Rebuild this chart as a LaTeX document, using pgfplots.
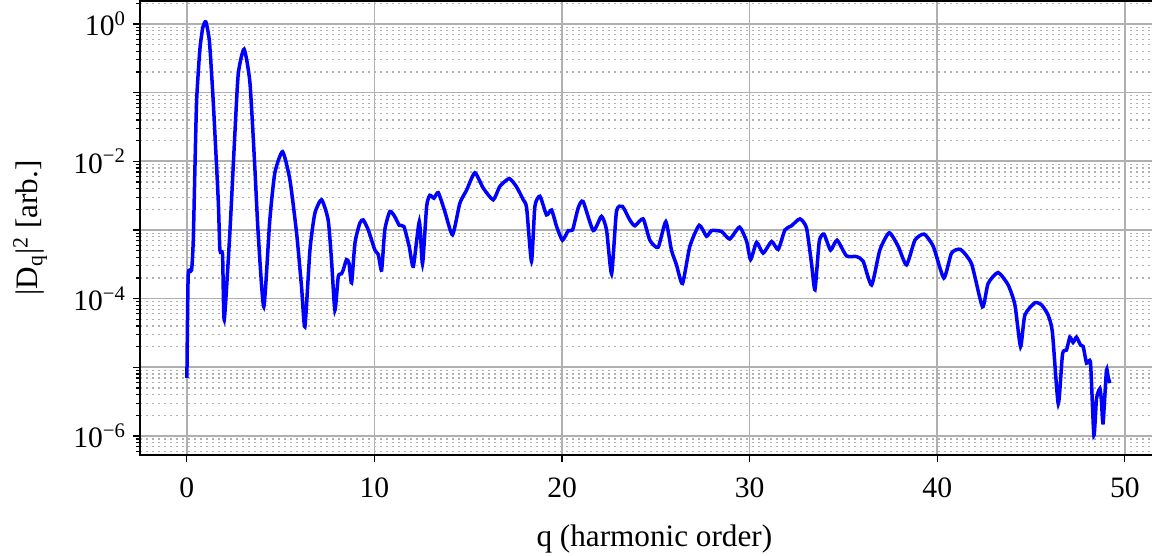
\documentclass[border=0pt]{standalone}
\usepackage{fontspec}
\setmainfont{Liberation Serif}
\usepackage{pgfplots}
\pgfplotsset{compat=1.18}
\definecolor{gridgray}{RGB}{176,176,176}
\begin{document}
\begin{tikzpicture}
\begin{axis}[
  at={(0,0)}, anchor=south west,
  scale only axis,
  width=509.3pt, height=227pt,
  ymode=log,
  xmin=-2.5, xmax=51.8,
  ymin=5.28e-7, ymax=2.16,
  xtick={0,10,20,30,40,50},
  xticklabels={0,10,20,30,40,50},
  ytick={1,1e-1,1e-2,1e-3,1e-4,1e-5,1e-6},
  yticklabels={10\textsuperscript{0},,10\textsuperscript{−2},,10\textsuperscript{−4},,10\textsuperscript{−6}},
  minor ytick={9e-7,8e-7,7e-7,6e-7,
    9e-6,8e-6,7e-6,6e-6,5e-6,4e-6,3e-6,2e-6,
    9e-5,8e-5,7e-5,6e-5,5e-5,4e-5,3e-5,2e-5,
    9e-4,8e-4,7e-4,6e-4,5e-4,4e-4,3e-4,2e-4,
    9e-3,8e-3,7e-3,6e-3,5e-3,4e-3,3e-3,2e-3,
    9e-2,8e-2,7e-2,6e-2,5e-2,4e-2,3e-2,2e-2,
    9e-1,8e-1,7e-1,6e-1,5e-1,4e-1,3e-1,2e-1,2},
  tick pos=left,
  tick align=outside,
  major tick length=3.5pt,
  minor tick length=2pt,
  every tick/.style={black, line width=0.6pt},
  grid=both,
  major grid style={gridgray, line width=0.8pt},
  minor grid style={gridgray, line width=0.6pt, dash pattern=on 1pt off 2pt},
  axis line style={black, line width=1pt},
  tick label style={font=\fontsize{14.8}{17}\selectfont},
  xticklabel style={yshift=-4.5pt},
  label style={font=\fontsize{15.6}{19}\selectfont},
  xlabel={q (harmonic order)},
  ylabel={|D\textsubscript{q}|\textsuperscript{2} [arb.]},
  xlabel style={at={(axis description cs:0.505,-0.184)}, anchor=center},
  ylabel style={at={(axis description cs:-0.108,0.5)}, anchor=center},
  clip=true,
]
\addplot[blue, line width=1.75pt, smooth, tension=0.35] table {
x y
0.00 7.0e-6
0.07 2.2e-4
0.25 2.6e-4
0.34 7.1e-4
0.43 8.3e-3
0.52 7.8e-2
0.69 0.42
0.85 0.89
1.01 1.07
1.20 0.56
1.40 7.8e-2
1.67 2.75e-3
1.76 5.1e-4
1.90 4.4e-4
1.99 4.9e-5
2.29 9.1e-4
2.56 2.6e-2
2.74 0.19
3.05 0.43
3.36 0.14
3.62 8.3e-3
3.80 8.9e-4
4.10 7.6e-5
4.42 1.4e-3
4.69 6.8e-3
5.10 1.38e-2
5.49 5.4e-3
5.85 8.9e-4
6.11 1.5e-4
6.29 3.9e-5
6.56 5.1e-4
6.82 1.74e-3
7.18 2.75e-3
7.53 1.4e-3
7.71 3.6e-4
7.89 6.8e-5
8.07 2.1e-4
8.24 2.3e-4
8.33 2.6e-4
8.51 3.7e-4
8.64 3.3e-4
8.78 1.7e-4
8.96 6.5e-4
9.22 1.26e-3
9.40 1.4e-3
9.67 1.0e-3
10.02 5.1e-4
10.20 4.4e-4
10.38 2.6e-4
10.55 1.0e-3
10.82 1.86e-3
11.09 1.55e-3
11.32 1.17e-3
11.57 1.12e-3
11.85 5.75e-4
12.07 2.95e-4
12.39 1.32e-3
12.56 3.2e-4
12.78 2.2e-3
12.95 3.2e-3
13.17 2.9e-3
13.40 3.5e-3
13.75 1.86e-3
14.16 8.5e-4
14.55 2.45e-3
14.91 3.8e-3
15.35 6.8e-3
15.79 4.1e-3
16.33 2.75e-3
16.68 4.3e-3
17.18 5.6e-3
17.56 4.3e-3
17.93 2.75e-3
18.11 2.1e-3
18.37 3.5e-4
18.55 2.2e-3
18.82 3.1e-3
19.17 1.66e-3
19.44 1.95e-3
19.71 1.12e-3
20.02 7.1e-4
20.33 9.8e-4
20.56 1.0e-3
20.86 2.1e-3
21.12 2.6e-3
21.66 9.8e-4
22.10 1.58e-3
22.37 1.0e-3
22.64 2.3e-4
22.90 1.86e-3
23.22 2.2e-3
23.61 1.4e-3
23.88 1.15e-3
24.32 1.45e-3
24.68 7.1e-4
25.12 5.6e-4
25.53 1.32e-3
25.83 5.1e-4
26.10 3.1e-4
26.42 1.66e-4
26.81 5.75e-4
27.31 1.17e-3
27.70 8.1e-4
27.97 9.8e-4
28.50 9.5e-4
28.94 7.4e-4
29.46 1.1e-3
29.84 6.8e-4
30.05 3.7e-4
30.37 6.6e-4
30.72 4.6e-4
31.17 6.8e-4
31.52 5.2e-4
31.88 1.0e-3
32.23 1.15e-3
32.68 1.45e-3
33.03 1.07e-3
33.30 3.2e-4
33.48 1.35e-4
33.71 6.8e-4
33.96 8.7e-4
34.31 5.1e-4
34.66 7.1e-4
35.16 4.2e-4
35.70 4.1e-4
36.05 3.5e-4
36.50 1.58e-4
36.94 5.1e-4
37.44 9.1e-4
37.92 5.75e-4
38.36 3.1e-4
38.81 7.1e-4
39.30 8.7e-4
39.79 5.75e-4
40.35 2.0e-4
40.76 4.6e-4
41.24 5.2e-4
41.83 3.2e-4
42.41 7.6e-5
42.71 1.66e-4
43.24 2.4e-4
43.78 1.58e-4
44.14 8.1e-5
44.44 2.0e-5
44.67 5.75e-5
45.20 8.7e-5
45.56 8.1e-5
45.91 5.75e-5
46.14 3.2e-5
46.45 2.95e-6
46.68 1.58e-5
46.89 1.78e-5
47.07 2.75e-5
47.24 2.3e-5
47.42 2.75e-5
47.64 2.1e-5
47.78 2.0e-5
47.96 1.15e-5
48.17 1.15e-5
48.35 1.02e-6
48.49 3.5e-6
48.67 4.9e-6
48.75 3.3e-6
48.84 1.55e-6
49.02 9.1e-6
49.11 7.2e-6
49.20 5.9e-6
};
\end{axis}
\pgfresetboundingbox
\useasboundingbox (-70pt,-50.5pt) rectangle (506pt,227.5pt);
\end{tikzpicture}
\end{document}
